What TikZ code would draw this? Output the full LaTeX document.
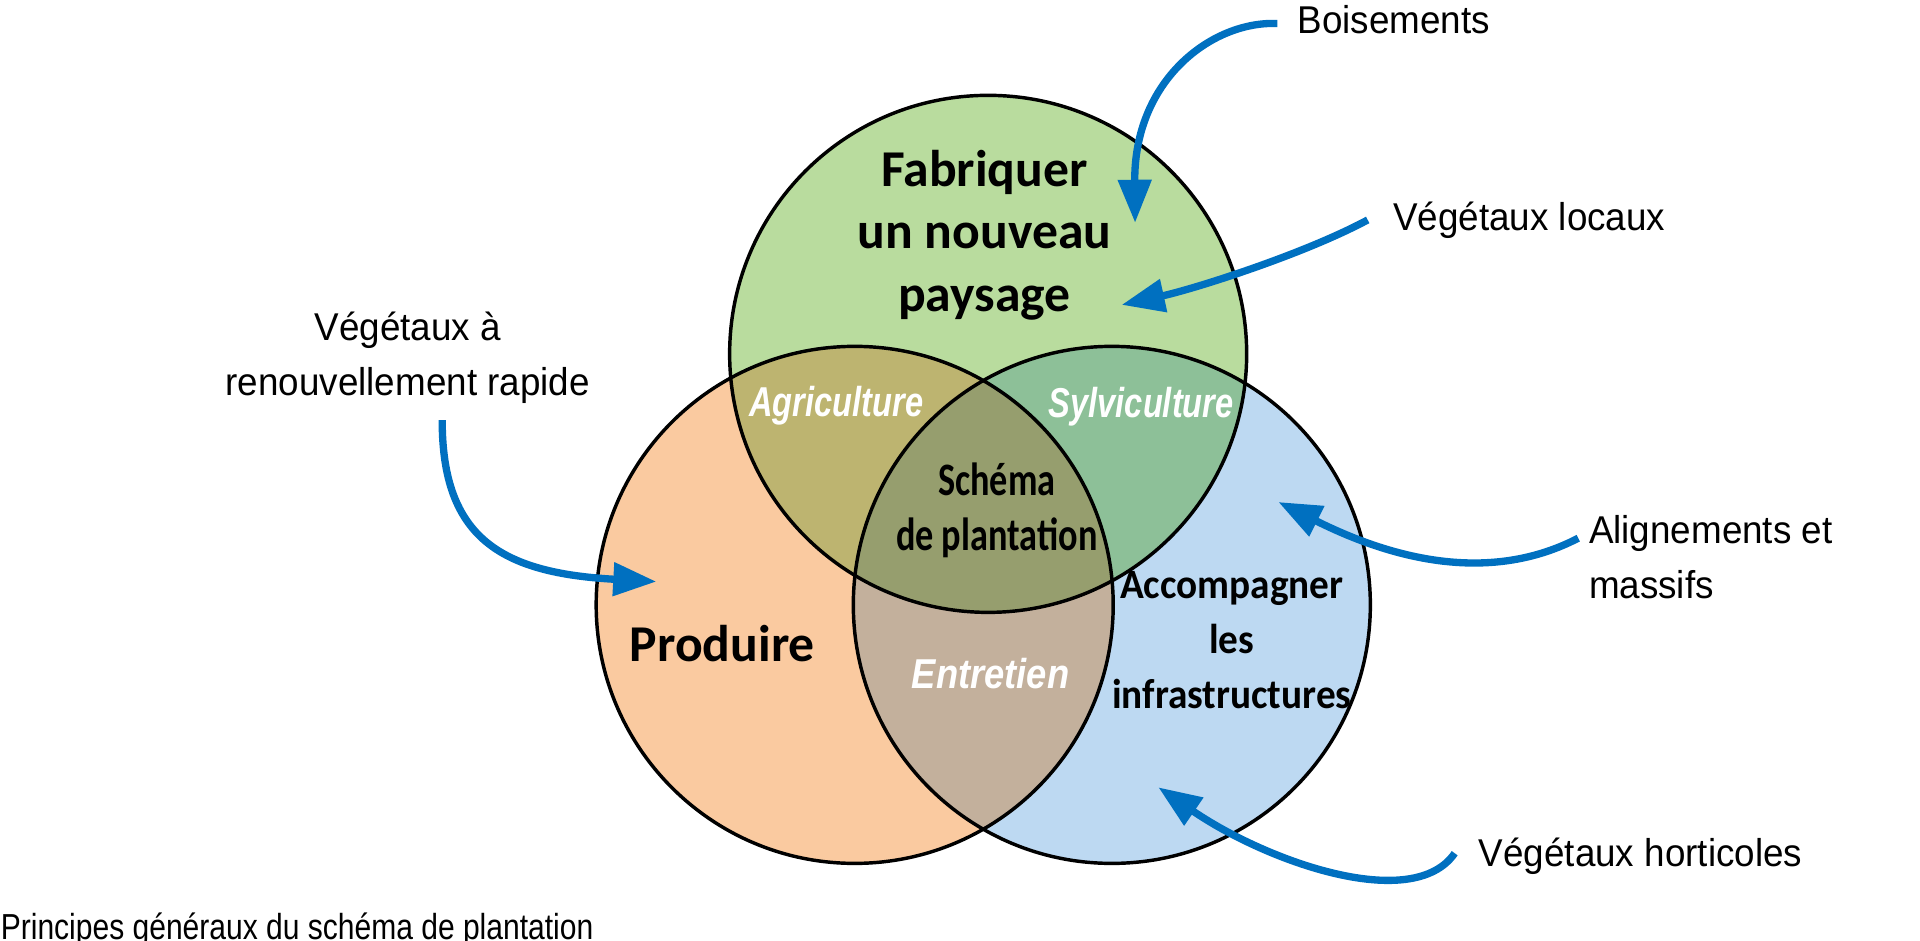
\documentclass[tikz,border=0pt]{standalone}
\usepackage{fontspec}
\usetikzlibrary{arrows.meta}

% Fonts of the labels
\newfontfamily\lblfont[FakeStretch=0.95]{Liberation Sans}
\newfontfamily\capfont[FakeStretch=0.83]{Liberation Sans}
\newfontfamily\zonefont[FakeStretch=0.78]{Liberation Sans}
\newfontfamily\entrfont[FakeStretch=0.87]{Liberation Sans}
\newfontfamily\titlefont{Carlito}
\newfontfamily\coeurfont[FakeStretch=0.78]{Carlito}
\newfontfamily\infrafont[FakeStretch=0.94]{Carlito}

% Colours of the three circles and of their overlaps
\definecolor{paysagegreen}{RGB}{185,220,158}
\definecolor{produireorange}{RGB}{250,202,160}
\definecolor{infrablue}{RGB}{189,217,242}
\definecolor{agrigreen}{RGB}{189,180,112}
\definecolor{sylvigreen}{RGB}{141,192,152}
\definecolor{entretienbrown}{RGB}{195,176,156}
\definecolor{coeurgreen}{RGB}{150,158,110}
\definecolor{flecheblue}{RGB}{0,112,192}

\newcommand\vennR{2.11cm}

\tikzset{
    venn/.style={line width=0.8pt},
    fleche/.style={line width=1.7pt, draw=flecheblue, -{Triangle[length=10pt,width=7.5pt]}},
    etiquette/.style={inner sep=0pt, font={\lblfont\fontsize{9}{12.8}\selectfont}},
    titre/.style={inner sep=0pt, align=center, font={\titlefont\bfseries\fontsize{12}{14.5}\selectfont}},
    zone/.style={inner sep=0pt, text=white, font={\zonefont\bfseries\itshape\fontsize{9.7}{12}\selectfont}}
}

\begin{document}
\begin{tikzpicture}[x=0.01cm, y=-0.01cm]

    \useasboundingbox (0,0) rectangle (1568,768);

    % Centres of the three circles
    \coordinate (P) at (807,289);   % Fabriquer un nouveau paysage
    \coordinate (O) at (698,494);   % Produire
    \coordinate (B) at (908,494);   % Accompagner les infrastructures

    % Fill the three circles
    \fill[produireorange] (O) circle [radius=\vennR];
    \fill[paysagegreen] (P) circle [radius=\vennR];
    \fill[infrablue] (B) circle [radius=\vennR];

    % Fill the overlaps two by two, then the centre
    \begin{scope}
        \clip (P) circle [radius=\vennR];
        \fill[agrigreen] (O) circle [radius=\vennR];
        \fill[sylvigreen] (B) circle [radius=\vennR];
    \end{scope}
    \begin{scope}
        \clip (O) circle [radius=\vennR];
        \fill[entretienbrown] (B) circle [radius=\vennR];
        \clip (P) circle [radius=\vennR];
        \fill[coeurgreen] (B) circle [radius=\vennR];
    \end{scope}

    % Black outlines on top
    \draw[venn] (P) circle [radius=\vennR];
    \draw[venn] (O) circle [radius=\vennR];
    \draw[venn] (B) circle [radius=\vennR];

    % Texts inside the circles
    \node[titre] (paysage) at (804,192) {Fabriquer\\un nouveau\\paysage};
    \node[titre, anchor=base] (produire) at (590,540) {Produire};
    \node[inner sep=0pt, align=center, font={\infrafont\bfseries\fontsize{9.7}{12.8}\selectfont}] (infra) at (1006,523) {Accompagner\\les\\infrastructures};
    \node[inner sep=0pt, align=center, font={\coeurfont\bfseries\fontsize{10.8}{12.8}\selectfont}] (coeur) at (814,417) {Schéma\\de plantation};
    \node[zone, anchor=base] (agri) at (683,340) {Agriculture};
    \node[zone, anchor=base] (sylvi) at (932,341) {Sylviculture};
    \node[zone, anchor=base, font={\entrfont\bfseries\itshape\fontsize{9.7}{12}\selectfont}] (entretien) at (809,562) {Entretien};

    % Labels outside the circles
    \node[etiquette, anchor=base west] (bois) at (1059,27) {Boisements};
    \node[etiquette, anchor=base west] (loc) at (1137,188) {Végétaux locaux};
    \node[etiquette, align=center] (rap) at (333,292) {Végétaux à\\renouvellement rapide};
    \node[etiquette, align=left, anchor=west] (ali) at (1297,455) {Alignements et\\massifs};
    \node[etiquette, anchor=base west] (hort) at (1207,708) {Végétaux horticoles};

    % Tips of the arrows
    \coordinate (boisTip) at (927,182);
    \coordinate (locTip) at (916,249);
    \coordinate (rapTip) at (536,475);
    \coordinate (aliTip) at (1044,410);
    \coordinate (hortTip) at (946,643);

    % Blue arrows from the labels into the circles
    \draw[fleche] ([xshift=-4.5pt,yshift=-1pt]bois.west) .. controls (990,17) and (926,65) .. (boisTip);
    \draw[fleche] ([xshift=-5.7pt]loc.west) .. controls (1064,208) and (975,236) .. (locTip);
    \draw[fleche] ([xshift=8pt,yshift=-3.7pt]rap.south) .. controls (361,440) and (410,468) .. (rapTip);
    \draw[fleche] ([xshift=-2.3pt,yshift=4.4pt]ali.west) .. controls (1209,481) and (1124,450) .. (aliTip);
    \draw[fleche] ([xshift=-5.4pt,yshift=0.8pt]hort.west) .. controls (1154,746) and (1035,704) .. (hortTip);

    % Caption
    \node[inner sep=0pt, anchor=base west, font={\capfont\fontsize{8.4}{10}\selectfont}] (legende) at (0,767) {Principes généraux du schéma de plantation};

\end{tikzpicture}
\end{document}
